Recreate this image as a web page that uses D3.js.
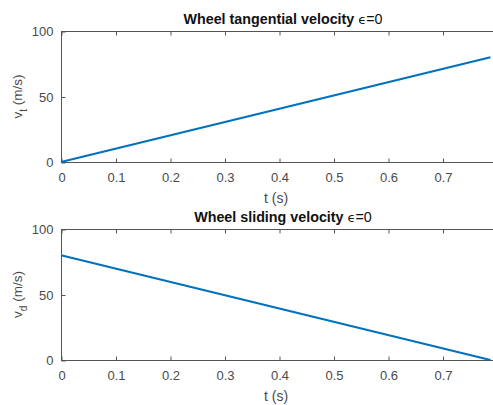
<!DOCTYPE html>
<html><head><meta charset="utf-8">
<script src="https://cdn.jsdelivr.net/npm/d3@7"></script>
<style>
body{margin:0;background:#fff;}
svg{display:block;}
text{font-family:"Liberation Sans",Arial,sans-serif;}
</style></head>
<body><svg id="c" width="493" height="405"></svg>
<script>
// Data
const timeVals = [0, 0.788];
const tangentialVel = [0, 80];
const slidingVel = [80, 0];
const xTicks = [0, 0.1, 0.2, 0.3, 0.4, 0.5, 0.6, 0.7];
const yTicks = [0, 50, 100];
const panels = [
  {title:"Wheel tangential velocity ", sub:"t", values: tangentialVel, top:31, bottom:162},
  {title:"Wheel sliding velocity ", sub:"d", values: slidingVel, top:229, bottom:360}
];

const svg = d3.select("#c");
const left = 61, right = 497;
const x = d3.scaleLinear().domain([0, 0.8]).range([left, right]);
const axisColor = "#555";
const textColor = "#4a4a4a";

panels.forEach(p => {
  const y = d3.scaleLinear().domain([0, 100]).range([p.bottom, p.top]);
  const g = svg.append("g");
  g.append("rect").attr("x", left+0.5).attr("y", p.top+0.5)
    .attr("width", right-left).attr("height", p.bottom-p.top)
    .attr("fill","none").attr("stroke",axisColor).attr("stroke-width",1);
  const xb = g.append("g").attr("transform",`translate(0.5,${p.bottom+0.5})`)
    .call(d3.axisBottom(x).tickValues(xTicks).tickSizeInner(-4).tickSizeOuter(0).tickPadding(10)
      .tickFormat(d => d===0 ? "0" : d3.format(".1f")(d)));
  const xt = g.append("g").attr("transform",`translate(0.5,${p.top+0.5})`)
    .call(d3.axisTop(x).tickValues(xTicks).tickSizeInner(-4).tickSizeOuter(0).tickFormat(""));
  const yl = g.append("g").attr("transform",`translate(${left+0.5},0.5)`)
    .call(d3.axisLeft(y).tickValues(yTicks).tickSizeInner(-4).tickSizeOuter(0).tickPadding(8));
  const yr = g.append("g").attr("transform",`translate(${right+0.5},0.5)`)
    .call(d3.axisRight(y).tickValues(yTicks).tickSizeInner(-4).tickSizeOuter(0).tickFormat(""));
  [xb,xt,yl,yr].forEach(a => {
    a.select(".domain").remove();
    a.selectAll(".tick line").attr("stroke",axisColor);
    a.selectAll("text").attr("fill",textColor).style("font-size","13px");
  });
  const pts = timeVals.map((t,i)=>[t,p.values[i]]);
  g.append("path").datum(pts)
    .attr("fill","none").attr("stroke","#0072BD").attr("stroke-width",2.2)
    .attr("d", d3.line().x(d=>x(d[0])).y(d=>y(d[1])));
  const tt = g.append("text").attr("x",(left+right)/2+4).attr("y",p.top-7)
    .attr("text-anchor","middle").attr("fill","#111")
    .style("font-size","14.3px").style("font-weight","bold");
  tt.append("tspan").text(p.title);
  tt.append("tspan").style("font-weight","normal").style("font-family","'DejaVu Sans'").style("font-size","13px").text("ϵ");
  tt.append("tspan").style("font-weight","normal").text("=0");
  g.append("text").attr("x",(left+right)/2 - 3).attr("y",p.bottom+41)
    .attr("text-anchor","middle").attr("fill",textColor).style("font-size","14px").text("t (s)");
  const yt = g.append("text").attr("transform",`translate(22,${(p.top+p.bottom)/2}) rotate(-90)`)
    .attr("text-anchor","middle").attr("fill",textColor).style("font-size","13.5px");
  yt.append("tspan").text("v");
  yt.append("tspan").attr("dy",5).style("font-size","10px").text(p.sub);
  yt.append("tspan").attr("dy",-5).text(" (m/s)");
});
</script></body></html>
